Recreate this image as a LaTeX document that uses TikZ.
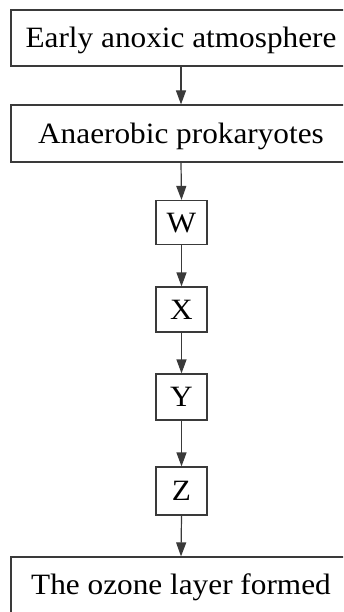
\documentclass[tikz,border=0pt]{standalone}
\usepackage{fontspec}
\setmainfont{Liberation Serif}[FakeStretch=1.06]
\usetikzlibrary{arrows.meta}
\definecolor{ln}{HTML}{3A3A3A}
\begin{document}
\begin{tikzpicture}[x=1pt,y=-1pt,
  wide/.style={draw=ln,line width=1.2pt,minimum width=340pt,minimum height=56pt,inner sep=0pt,
    font=\fontsize{29.5}{32}\selectfont,text height=19.5pt,text depth=0pt},
  small/.style={draw=ln,line width=1.2pt,minimum width=51pt,minimum height=44pt,inner sep=0pt,
    font=\fontsize{29.5}{32}\selectfont,text height=19.5pt,text depth=0pt},
  conn/.style={draw=ln,line width=1.2pt,-{Triangle[length=14pt,width=10pt]}}]
\useasboundingbox (0,0) rectangle (343,612);
\clip (0,0) rectangle (343,612);
\node[wide] (b1) at (181,38) {Early anoxic atmosphere};
\node[wide,minimum height=57pt] (b2) at (181,133.5) {Anaerobic prokaryotes};
\node[small] (w) at (181.5,222.5) {W};
\node[small,minimum height=45pt] (x) at (181.5,309.5) {X};
\node[small,minimum height=46pt] (yy) at (181.5,397) {Y};
\node[small,minimum height=48pt] (z) at (181.5,491) {Z};
\node[wide] (b3) at (181,585) {The ozone layer formed};
\draw[conn] (b1.south) -- (b2.north);
\draw[conn] (b2.south) -- (w.north);
\draw[conn] (w.south) -- (x.north);
\draw[conn] (x.south) -- (yy.north);
\draw[conn] (yy.south) -- (z.north);
\draw[conn] (z.south) -- (b3.north);
\end{tikzpicture}
\end{document}
